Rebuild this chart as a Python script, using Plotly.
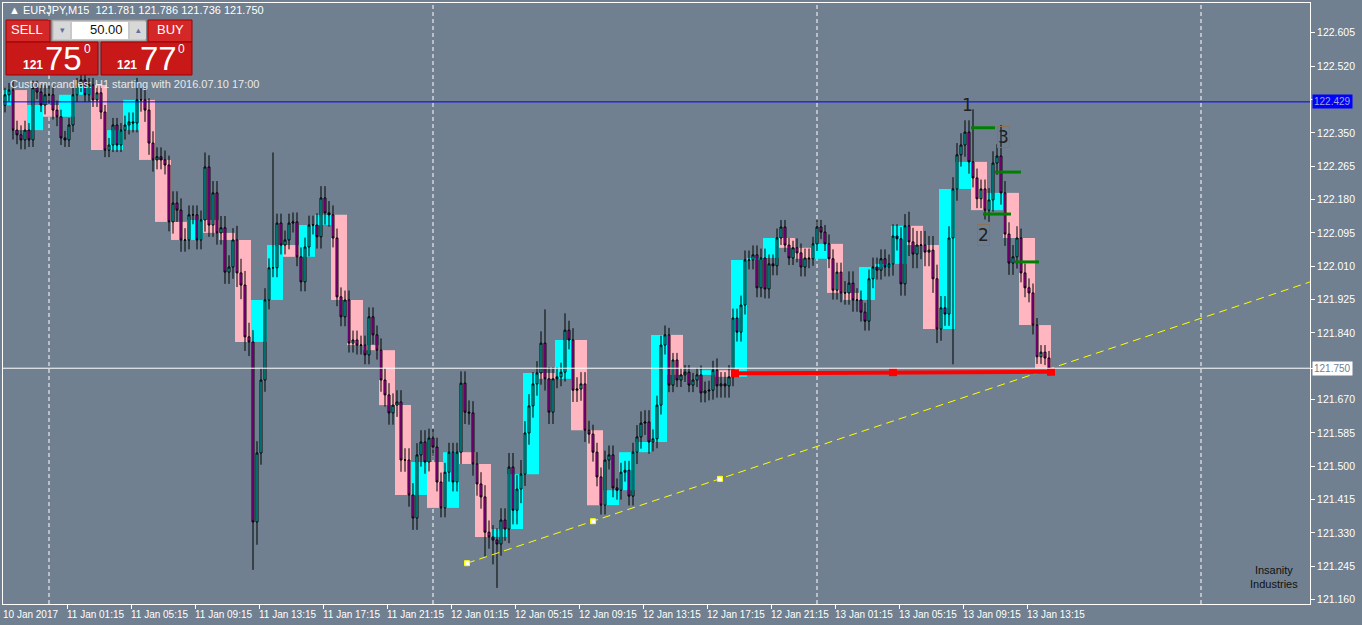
import plotly.graph_objects as go

# ---------------- data ----------------
closes = [
 122.447,122.459,122.357,122.345,122.332,122.357,122.332,122.465,122.454,122.421,
 122.447,122.447,122.408,122.391,122.337,122.332,122.370,122.447,122.472,122.485,
 122.447,122.472,122.434,122.452,122.403,122.306,122.319,122.370,122.319,122.357,
 122.370,122.378,122.375,122.434,122.434,122.408,122.324,122.281,122.289,122.281,
 122.268,122.123,122.171,122.153,122.077,122.077,122.141,122.141,122.077,122.128,
 122.263,122.115,122.197,122.095,122.108,121.995,122.008,122.077,121.993,121.962,
 121.830,121.817,121.358,121.534,121.720,121.924,122.006,122.006,122.120,122.064,
 122.077,122.120,122.123,122.034,121.970,122.059,122.115,122.115,122.085,122.184,
 122.146,122.141,122.082,121.932,121.881,121.924,121.814,121.822,121.809,121.809,
 121.784,121.881,121.835,121.796,121.720,121.682,121.636,121.656,121.664,121.516,
 121.516,121.427,121.368,121.529,
 121.562,121.511,121.572,121.549,121.460,121.394,121.485,121.536,121.460,121.536,
 121.712,121.638,121.636,121.506,121.455,121.422,121.332,121.320,121.312,121.302,
 121.363,121.340,121.498,121.388,121.442,121.480,121.585,121.654,121.710,121.738,
 121.814,121.723,121.638,121.723,121.728,121.740,121.847,121.822,121.694,121.697,
 121.710,121.592,121.582,121.536,121.473,121.401,121.516,121.529,121.445,121.439,
 121.485,121.490,121.424,121.536,121.575,121.610,121.613,121.562,121.570,121.656,
 121.809,121.835,121.707,121.771,121.720,121.733,121.740,121.707,121.720,121.733,
 121.687,121.692,121.694,121.745,121.705,121.710,121.705,121.728,121.878,121.842,
 121.911,122.026,122.026,122.039,121.955,122.031,121.952,122.016,122.011,122.082,
 122.110,122.064,122.031,122.057,122.044,122.008,122.031,122.029,122.067,122.110,
 122.097,122.067,122.029,121.949,121.995,121.942,121.942,121.967,121.924,121.924,
 121.893,121.870,121.978,122.008,122.000,122.029,122.008,122.016,122.087,122.080,
 121.965,122.113,122.072,122.041,122.064,122.064,122.046,122.051,121.978,121.850,
 121.904,121.888,122.082,122.207,
 122.294,122.319,122.352,122.276,122.235,122.182,122.207,122.153,122.179,122.273,
 122.291,122.197,122.092,122.018,122.034,122.082,121.993,121.955,121.942,121.860,
 121.779,121.791,121.776,121.750,
]
first_open = 122.420
# wick size (price) per H1 group
hour_wick = [0.03,0.04,0.03,0.04,0.03,0.03,0.03,0.03,0.04,0.05,0.04,0.05,0.04,0.05,0.05,0.06,
             0.05,0.04,0.04,0.04,0.05,0.04,0.04,0.04,0.05,0.05,0.05,0.04,0.04,0.05,0.05,0.05,
             0.06,0.05,0.05,0.04,0.05,0.04,0.04,0.04,0.05,0.04,0.03,0.03,0.04,0.05,0.04,0.04,
             0.04,0.03,0.04,0.03,0.04,0.05,0.04,0.04,0.05,0.06,0.06,0.05,0.05,0.04,0.05,0.05,
             0.04,0.03]
extra_low = {62: 121.236, 63: 121.300, 123: 121.190, 122: 121.250, 120: 121.270, 237: 121.760, 66: 121.900}
extra_high = {242: 122.410, 249: 122.370, 67: 122.300, 50: 122.300, 33: 122.490, 135: 121.900, 140: 121.890}

day_sep = [11, 107, 203, 299]
xlabel_pos = [-0.5, 15.5, 31.5, 47.5, 63.5, 79.5, 95.5, 111.5, 127.5, 143.5, 159.5, 175.5, 191.5, 207.5, 223.5, 239.5, 255.5]
xlabel_txt = ["10 Jan 2017", "11 Jan 01:15", "11 Jan 05:15", "11 Jan 09:15", "11 Jan 13:15", "11 Jan 17:15",
              "11 Jan 21:15", "12 Jan 01:15", "12 Jan 05:15", "12 Jan 09:15", "12 Jan 13:15", "12 Jan 17:15",
              "12 Jan 21:15", "13 Jan 01:15", "13 Jan 05:15", "13 Jan 09:15", "13 Jan 13:15"]
yticks = [121.160, 121.245, 121.330, 121.415, 121.500, 121.585, 121.670, 121.750, 121.840, 121.925,
          122.010, 122.095, 122.180, 122.265, 122.350, 122.435, 122.520, 122.605]
ytick_txt = ["121.160", "121.245", "121.330", "121.415", "121.500", "121.585", "121.670", "", "121.840", "121.925",
             "122.010", "122.095", "122.180", "122.265", "122.350", "", "122.520", "122.605"]
blue_level = 122.429
bid_level = 121.750
trend_x = [115.5, 326.25]
trend_y = [121.253, 121.970]
trend_pts_x = [115.5, 147.0, 178.75]
trend_pts_y = [121.253, 121.360, 121.468]
red_x = [182.5, 222.0, 261.5]
red_y = [121.737, 121.740, 121.741]
green_segs = [(241.5, 247.5, 122.363), (247.5, 254.0, 122.250), (244.5, 251.5, 122.143), (252.5, 258.5, 122.021)]
wave_labels = [(240.5, 122.420, "1"), (249.5, 122.340, "3"), (244.5, 122.090, "2")]

# ---------------- build candles ----------------
n = len(closes)
idx = list(range(n))
opens = [first_open] + closes[:-1]
highs, lows = [], []
for i in range(n):
    g = min((i + 2) // 4, len(hour_wick) - 1)
    w = hour_wick[g]
    highs.append(extra_high.get(i, max(opens[i], closes[i]) + w * 0.6))
    lows.append(extra_low.get(i, min(opens[i], closes[i]) - w * 0.6))

BG = "#708090"
FONT = "Liberation Sans"
fig = go.Figure()

groups = {}
for i in range(n):
    groups.setdefault((i + 2) // 4, []).append(i)
shapes = []
for g, members in groups.items():
    o = opens[members[0]]; c = closes[members[-1]]
    col = "#ffb6c1" if c < o else "#00ffff"
    shapes.append(dict(type="rect", xref="x", yref="y", x0=members[0] - 0.5, x1=members[-1] + 0.5,
                       y0=min(o, c), y1=max(o, c), fillcolor=col, line_width=0, layer="below"))
for d in day_sep:
    shapes.append(dict(type="line", xref="x", yref="paper", x0=d, x1=d, y0=0, y1=1,
                       line=dict(color="white", width=1, dash="4px,3px"), layer="below"))
shapes.append(dict(type="line", xref="paper", yref="y", x0=0, x1=1, y0=blue_level, y1=blue_level,
                   line=dict(color="#0000ff", width=1)))
shapes.append(dict(type="line", xref="paper", yref="y", x0=0, x1=1, y0=bid_level, y1=bid_level,
                   line=dict(color="white", width=1)))
for x0, x1, y in green_segs:
    shapes.append(dict(type="line", xref="x", yref="y", x0=x0, x1=x1, y0=y, y1=y,
                       line=dict(color="#008000", width=3)))

fig.add_trace(go.Candlestick(x=idx, open=opens, high=highs, low=lows, close=closes,
                             increasing=dict(fillcolor="#00e8e8", line=dict(color="black", width=1)),
                             decreasing=dict(fillcolor="#e000e0", line=dict(color="black", width=1)),
                             whiskerwidth=0, hoverinfo="skip", showlegend=False))
fig.add_trace(go.Scatter(x=trend_x, y=trend_y, mode="lines", line=dict(color="#ffff00", width=1, dash="8px,5px"),
                         showlegend=False, hoverinfo="skip"))
fig.add_trace(go.Scatter(x=trend_pts_x, y=trend_pts_y, mode="markers",
                         marker=dict(symbol="square", size=5, color="white", line=dict(color="#ffff00", width=1)),
                         showlegend=False, hoverinfo="skip"))
fig.add_trace(go.Scatter(x=red_x, y=red_y, mode="lines+markers", line=dict(color="#ff0000", width=4),
                         marker=dict(symbol="square", size=8, color="#ff0000"), showlegend=False, hoverinfo="skip"))

W, H = 1362, 625
ML, MR, MT, MB = 3, 52, 3, 21
PW, PH = W - ML - MR, H - MT - MB

def px(x):
    return (x - ML) / PW

def py(y):
    return 1 - (y - MT) / PH

ann = []
for xp, t in zip(xlabel_pos, xlabel_txt):
    ann.append(dict(x=xp, y=0, xref="x", yref="paper", text=t, showarrow=False, xanchor="left", yanchor="top",
                    yshift=-3, xshift=-2, font=dict(family=FONT, size=10, color="white")))
ann.append(dict(x=1, y=blue_level, xref="paper", yref="y", text="122.429", showarrow=False, xanchor="left",
                xshift=2, bgcolor="#0000ff", font=dict(family=FONT, size=10, color="#a0a8d0"), borderpad=1))
ann.append(dict(x=1, y=bid_level, xref="paper", yref="y", text="121.750", showarrow=False, xanchor="left",
                xshift=2, bgcolor="white", font=dict(family=FONT, size=10, color="#708090"), borderpad=1))
for x, y, t in wave_labels:
    ann.append(dict(x=x, y=y, xref="x", yref="y", text=t, showarrow=False,
                    font=dict(family="DejaVu Sans", size=17, color="#202020"),
                    bordercolor="#8b7355" if t != "1" else "rgba(0,0,0,0)", borderwidth=1, borderpad=0))
ann.append(dict(x=px(1274), y=py(577), xref="paper", yref="paper", text="Insanity<br>Industries", showarrow=False,
                xanchor="center", yanchor="middle", font=dict(family=FONT, size=11, color="#101010")))
ann.append(dict(x=px(8), y=py(84), xref="paper", yref="paper", text="Custom candles: H1 starting with 2016.07.10 17:00",
                showarrow=False, xanchor="left", yanchor="middle", font=dict(family=FONT, size=11, color="#e8e8e8")))
ann.append(dict(x=px(7), y=py(10), xref="paper", yref="paper", text="▲ EURJPY,M15  121.781 121.786 121.736 121.750",
                showarrow=False, xanchor="left", yanchor="middle", font=dict(family=FONT, size=11, color="white")))

def rect(x0, y0, x1, y1, fill, line="rgba(0,0,0,0)"):
    shapes.append(dict(type="rect", xref="paper", yref="paper", x0=px(x0), x1=px(x1), y0=py(y1), y1=py(y0),
                       fillcolor=fill, line=dict(color=line, width=1)))

def txt(x, y, t, size, color="white", anchor="center"):
    ann.append(dict(x=px(x), y=py(y), xref="paper", yref="paper", text=t, showarrow=False, xanchor=anchor,
                    yanchor="middle", font=dict(family=FONT, size=size, color=color)))

rect(6, 20, 50, 42, "#d42828", "#a00000")
rect(52, 20, 146, 41, "#c8c8c8", "#909090")
rect(54, 22, 70, 39, "#d8d8d8")
rect(72, 22, 128, 39, "white")
rect(130, 22, 146, 39, "#d8d8d8")
rect(148, 20, 192, 42, "#d42828", "#a00000")
rect(6, 42, 98, 75, "#c81818", "#a00000")
rect(101, 42, 192, 75, "#c81818", "#a00000")
txt(27, 30, "SELL", 13)
txt(62, 30, "▾", 9, "#6070a0")
txt(125, 30, "50.00", 13, "#111111", "right")
txt(138, 30, "▴", 9, "#6070a0")
txt(170, 30, "BUY", 13)
txt(33, 65, "<b>121</b>", 12)
txt(64, 58, "75", 33)
txt(87, 49, "0", 12)
txt(127, 65, "<b>121</b>", 12)
txt(158, 58, "77", 33)
txt(182, 49, "0", 12)

fig.update_layout(
    width=W, height=H, margin=dict(l=ML, r=MR, t=MT, b=MB),
    paper_bgcolor=BG, plot_bgcolor=BG, shapes=shapes, annotations=ann, showlegend=False,
    xaxis=dict(range=[-0.5, 326.25], tickvals=xlabel_pos[1:], showticklabels=False,
               ticks="outside", ticklen=4, tickcolor="white", showgrid=False, zeroline=False,
               showline=True, linecolor="white", mirror=True, rangeslider=dict(visible=False), fixedrange=True),
    yaxis=dict(range=[121.149, 122.681], side="right", tickvals=yticks, ticktext=ytick_txt, ticks="outside",
               ticklen=4, tickcolor="white", showgrid=False, zeroline=False, showline=True, linecolor="white",
               mirror=True, tickfont=dict(family=FONT, size=10.5, color="white"), fixedrange=True),
)
fig.write_html("out.html", config={"displayModeBar": False},
               post_script="document.body.style.margin='0';document.body.style.background='#708090';")
